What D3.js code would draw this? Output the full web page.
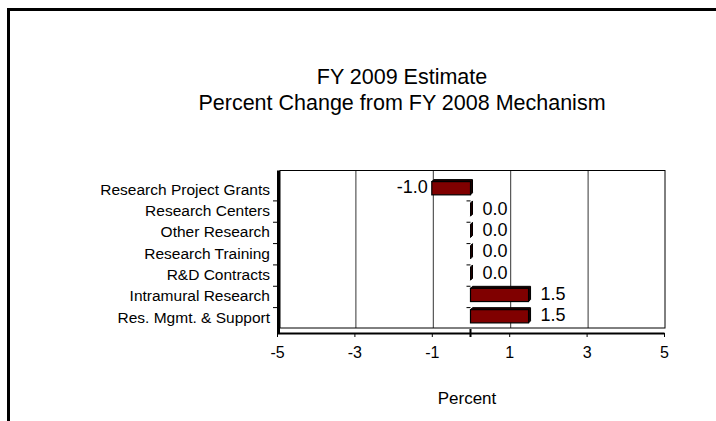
<!DOCTYPE html>
<html>
<head>
<meta charset="utf-8">
<script src="https://cdn.jsdelivr.net/npm/d3@7"></script>
<style>
  body { margin: 0; background: #fff; }
  text { font-family: Arial, "Liberation Sans", sans-serif; fill: #000; }
</style>
</head>
<body>
<div id="chart"></div>
<script>
// chart data
var categories = ['Research Project Grants', 'Research Centers', 'Other Research',
    'Research Training', 'R&D Contracts', 'Intramural Research', 'Res. Mgmt. & Support'];
var values = [-1.0, 0.0, 0.0, 0.0, 0.0, 1.5, 1.5];
var xTicks = [-5, -3, -1, 1, 3, 5];
var gridValues = [-3, -1, 1, 3];
var titleLines = ['FY 2009 Estimate', 'Percent Change from FY 2008 Mechanism'];

const width = 716;
const height = 421;
const depthX = 3;   // 3D back wall offset
const depthY = -5;

var svg = d3.select('#chart')
    .append('svg')
        .attr('width', width)
        .attr('height', height);

// outer frame
svg.append('rect')
    .attr('x', 8.5)
    .attr('y', 9.5)
    .attr('width', 800)
    .attr('height', 600)
    .attr('fill', 'none')
    .attr('stroke', '#000')
    .attr('stroke-width', 3);

// title
svg.selectAll('.title')
    .data(titleLines)
    .enter()
    .append('text')
        .attr('class', 'title')
        .attr('x', 402)
        .attr('y', (d, i) => 84 + i * 26)
        .attr('text-anchor', 'middle')
        .style('font-size', '21.5px')
        .text(d => d);

var x = d3.scaleLinear()
    .domain([-5, 5])
    .range([277, 664]);

var y = d3.scaleBand()
    .domain(categories)
    .range([175.5, 333])
    .padding(0.38);

var yTop = 175.5, yBottom = 333;
var fmt = d => d3.format('.1f')(d).replace('−', '-');

// back wall
svg.append('rect')
    .attr('x', x(-5) + depthX)
    .attr('y', yTop + depthY)
    .attr('width', x(5) + 1 - x(-5) - depthX)
    .attr('height', yBottom - yTop)
    .attr('fill', '#fff')
    .attr('stroke', '#000')
    .attr('stroke-width', 1);

// gridlines
svg.selectAll('.grid')
    .data(gridValues)
    .enter()
    .append('line')
        .attr('class', 'grid')
        .attr('x1', d => x(d) + 1.5)
        .attr('x2', d => x(d) + 1.5)
        .attr('y1', yTop + depthY)
        .attr('y2', yBottom + depthY)
        .attr('stroke', '#000')
        .attr('stroke-width', 0.8);

// left wall (thick side)
svg.append('line')
    .attr('x1', x(-5) + 1.5)
    .attr('x2', x(-5) + 1.5)
    .attr('y1', yTop + depthY)
    .attr('y2', yBottom)
    .attr('stroke', '#000')
    .attr('stroke-width', 3);

// category ticks on left wall and at zero
var bounds = categories.map(c => y(c) - y.step() * y.paddingInner() / 2);
bounds.shift();
svg.selectAll('.ytick')
    .data(bounds)
    .enter()
    .append('line')
        .attr('class', 'ytick')
        .attr('x1', x(-5) - 4)
        .attr('x2', x(-5))
        .attr('y1', d => d)
        .attr('y2', d => d)
        .attr('stroke', '#000');

svg.selectAll('.ztick')
    .data(bounds)
    .enter()
    .append('line')
        .attr('class', 'ztick')
        .attr('x1', x(0) - 4)
        .attr('x2', x(0))
        .attr('y1', d => d)
        .attr('y2', d => d)
        .attr('stroke', '#000');

// category labels
svg.selectAll('.cat')
    .data(categories)
    .enter()
    .append('text')
        .attr('class', 'cat')
        .attr('x', 270)
        .attr('y', d => y(d) + y.bandwidth() / 2 - 1)
        .attr('text-anchor', 'end')
        .attr('dominant-baseline', 'central')
        .style('font-size', '15.5px')
        .text(d => d);

// bottom axis
var xAxis = d3.axisBottom(x)
    .tickValues(xTicks)
    .tickSize(4)
    .tickSizeOuter(0)
    .tickFormat(d => String(d));

var gx = svg.append('g')
    .attr('transform', `translate(0, ${yBottom})`)
    .call(xAxis);
gx.select('.domain').attr('stroke-width', 2);
gx.selectAll('.tick text')
    .attr('dy', 0)
    .attr('y', 25)
    .style('font-size', '16px')
    .style('font-family', 'Arial, "Liberation Sans", sans-serif');

// zero tick
svg.append('line')
    .attr('x1', x(0))
    .attr('x2', x(0))
    .attr('y1', yBottom - 4)
    .attr('y2', yBottom + 4)
    .attr('stroke', '#000')
    .attr('stroke-width', 2);

svg.append('text')
    .attr('x', 467)
    .attr('y', 404)
    .attr('text-anchor', 'middle')
    .style('font-size', '17px')
    .text('Percent');

// bars with a small 3D depth
var bars = svg.selectAll('.bar')
    .data(values)
    .enter()
    .append('g')
        .attr('class', 'bar')
        .attr('transform', (d, i) => `translate(0, ${y(categories[i]) - 2})`);

var bd = 2;
bars.append('polygon')
    .attr('points', d => {
        let x0 = x(Math.min(0, d)), x1 = x(Math.max(0, d)), h = y.bandwidth();
        return [[x0, 0], [x0 + bd, -bd], [x1 + bd, -bd], [x1 + bd, h - bd], [x1, h], [x1, 0]]
            .map(p => p.join(',')).join(' ');
    })
    .attr('fill', '#200000')
    .attr('stroke', '#000')
    .attr('stroke-width', 1);

bars.append('rect')
    .attr('x', d => x(Math.min(0, d)))
    .attr('y', 0)
    .attr('width', d => Math.abs(x(d) - x(0)))
    .attr('height', y.bandwidth())
    .attr('fill', '#800000')
    .attr('stroke', '#000')
    .attr('stroke-width', 1.2);

// value labels
svg.selectAll('.val')
    .data(values)
    .enter()
    .append('text')
        .attr('class', 'val')
        .attr('x', d => d < 0 ? x(d) - 4 : x(d) + 12)
        .attr('y', (d, i) => y(categories[i]) + y.bandwidth() / 2 - 3)
        .attr('text-anchor', d => d < 0 ? 'end' : 'start')
        .attr('dominant-baseline', 'central')
        .style('font-size', '18px')
        .text(d => fmt(d));
</script>
</body>
</html>
